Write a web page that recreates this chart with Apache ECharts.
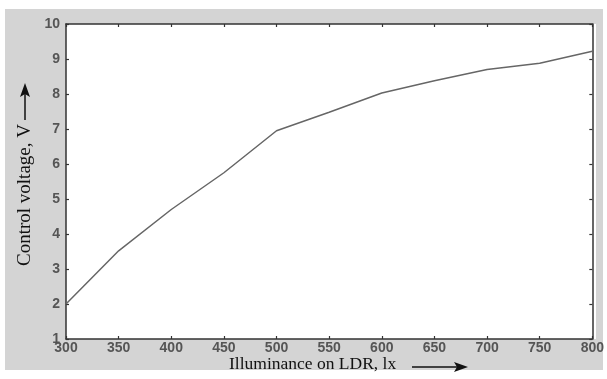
<!DOCTYPE html>
<html>
<head>
<meta charset="utf-8">
<script src="https://cdn.jsdelivr.net/npm/echarts@6/dist/echarts.min.js"></script>
<style>
  html, body { margin: 0; padding: 0; background: #fff; }
  #chart { width: 607px; height: 379px; }
</style>
</head>
<body>
<div id="chart"></div>
<script>
// illuminance (lx) vs control voltage (V)
const illuminance = [300, 350, 400, 450, 500, 550, 600, 650, 700, 750, 800];
const voltage = [2.0, 3.52, 4.7, 5.75, 6.95, 7.48, 8.03, 8.38, 8.7, 8.88, 9.22];
const xTitle = 'Illuminance on LDR, lx';
const yTitle = 'Control voltage, V';

const chart = echarts.init(document.getElementById('chart'));

const tickLabel = {
  color: '#555',
  fontFamily: 'Liberation Sans, Arial, sans-serif',
  fontWeight: 'bold',
  fontSize: 14
};
const axisLine = { show: true, lineStyle: { color: '#333', width: 1.5 } };
const axisTick = { show: true, inside: true, length: 3, lineStyle: { color: '#333', width: 1.2 } };

const option = {
  animation: false,
  backgroundColor: '#fff',
  grid: { left: 66, right: 11, top: 24, bottom: 40 },
  graphic: [
    {
      type: 'rect', z: -10, silent: true,
      shape: { x: 5, y: 9, width: 598, height: 361 },
      style: { fill: '#d4d4d4' }
    },
    {
      type: 'rect', z: -5, silent: true,
      shape: { x: 66, y: 24, width: 530, height: 315 },
      style: { fill: '#fff' }
    },
    {
      type: 'text', left: 229, top: 355,
      style: { text: xTitle, font: '17.5px "Liberation Serif", serif', fill: '#111' }
    },
    {
      type: 'line',
      shape: { x1: 412, y1: 367, x2: 458, y2: 367 },
      style: { stroke: '#111', lineWidth: 1.5 }
    },
    {
      type: 'polygon',
      shape: { points: [[468, 367], [454, 362], [457, 367], [454, 372]] },
      style: { fill: '#111' }
    },
    {
      type: 'text', x: 25, y: 195, rotation: Math.PI / 2,
      style: { text: yTitle, font: '19px "Liberation Serif", serif', fill: '#111', align: 'center', verticalAlign: 'middle' }
    },
    {
      type: 'line',
      shape: { x1: 25, y1: 93, x2: 25, y2: 120 },
      style: { stroke: '#111', lineWidth: 1.5 }
    },
    {
      type: 'polygon',
      shape: { points: [[25, 83], [20, 97], [25, 94], [30, 97]] },
      style: { fill: '#111' }
    }
  ],
  xAxis: [
    {
      type: 'value', min: 300, max: 800, interval: 50,
      axisLine, axisTick, splitLine: { show: false },
      axisLabel: Object.assign({ margin: 2 }, tickLabel)
    },
    {
      type: 'value', position: 'top', min: 300, max: 800, interval: 50,
      axisLine, axisTick, splitLine: { show: false }, axisLabel: { show: false }
    }
  ],
  yAxis: [
    {
      type: 'value', min: 1, max: 10, interval: 1,
      axisLine, axisTick, splitLine: { show: false },
      axisLabel: Object.assign({ margin: 6 }, tickLabel)
    },
    {
      type: 'value', position: 'right', min: 1, max: 10, interval: 1,
      axisLine, axisTick, splitLine: { show: false }, axisLabel: { show: false }
    }
  ],
  series: [
    {
      type: 'line',
      data: illuminance.map((x, i) => [x, voltage[i]]),
      showSymbol: false,
      lineStyle: { color: '#666', width: 1.5 }
    }
  ]
};

chart.setOption(option);
</script>
</body>
</html>
